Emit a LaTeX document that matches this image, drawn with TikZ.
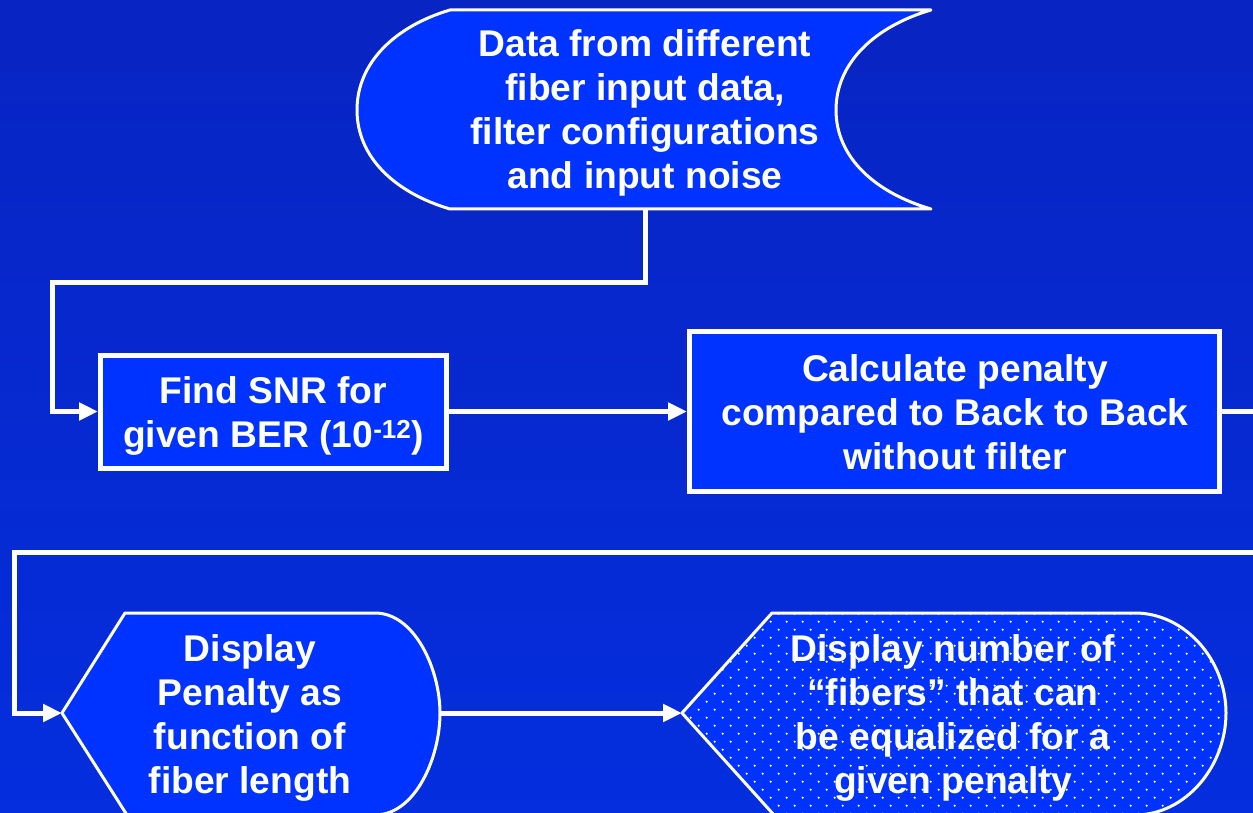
\documentclass[tikz,border=0pt]{standalone}
\usepackage{fontspec}
\setmainfont{Liberation Sans}
\usetikzlibrary{arrows.meta}
\definecolor{bgtop}{RGB}{8,36,194}
\definecolor{bgbot}{RGB}{4,46,222}
\definecolor{boxblue}{RGB}{0,51,255}
\begin{document}
\begin{tikzpicture}[x=1pt,y=-1pt,
  txt/.style={text=white, font=\fontsize{37.2}{44}\selectfont\bfseries, align=center, inner sep=0pt},
  rectbox/.style={draw=white, line width=5pt, fill=boxblue, inner sep=0pt},
  shapefill/.style={fill=boxblue},
  shapeline/.style={draw=white, line width=3pt, line join=round},
  conn/.style={draw=white, line width=5pt},
  arr/.style={conn, -{Triangle[length=19pt,width=17pt]}},
]
\useasboundingbox (0,0) rectangle (1253,813);
\clip (0,0) rectangle (1253,813);
\shade[top color=bgtop,bottom color=bgbot] (0,0) rectangle (1253,813);

% ---------- top data shape ----------
\path[shapefill,shapeline] (450,10) -- (931,10) .. controls (876,26) and (836,62) .. (836,110)
   .. controls (836,158) and (876,193) .. (931,209) -- (450,209)
   .. controls (396,193) and (357,158) .. (357,110) .. controls (357,62) and (396,26) .. (450,10) -- cycle;
\coordinate (data-s) at (645,209);
\node[txt] (data) at (645,112.8) {Data from different\\fiber input data,\\filter configurations\\and input noise};

% ---------- rectangles ----------
\node[rectbox, minimum width=346pt, minimum height=113pt] (snr) at (273.5,411.5) {};
\node[txt] (snr-t) at (273.5,415.8) {Find SNR for\\given BER (10\textsuperscript{-12})};

\node[rectbox, minimum width=530pt, minimum height=160pt] (calc) at (954.5,411.5) {};
\node[txt] (calc-t) at (955,412) {Calculate penalty\\compared to Back to Back\\without filter};

% ---------- display penalty ----------
\path[shapefill,shapeline] (62,713) -- (125,613) -- (375,613) .. controls (415,613) and (440,670) .. (440,713)
   .. controls (440,758) and (415,815) .. (375,815) -- (127,815) -- cycle;
\coordinate (dp-w) at (62,713);
\coordinate (dp-e) at (440,713);
\node[txt] (dp-t) at (250,717.8) {Display\\Penalty as\\function of\\fiber length};

% ---------- display number (dotted) ----------
\fill[boxblue] (682,713) -- (772,613) -- (1135,613) .. controls (1185,613) and (1226,660) .. (1226,713)
   .. controls (1226,767) and (1185,815) .. (1135,815) -- (774,815) -- cycle;
\begin{scope}
\clip (682,713) -- (772,613) -- (1135,613) .. controls (1185,613) and (1226,660) .. (1226,713)
   .. controls (1226,767) and (1185,815) .. (1135,815) -- (774,815) -- cycle;
\foreach \j in {0,...,27}{
  \pgfmathsetmacro{\off}{8*mod(\j,2)}
  \foreach \k in {0,...,36}{
    \fill[white] ({674.7+16*\k+\off},{605.7+8*\j}) circle (1.2pt);
  }
}
\end{scope}
\path[shapeline] (682,713) -- (772,613) -- (1135,613) .. controls (1185,613) and (1226,660) .. (1226,713)
   .. controls (1226,767) and (1185,815) .. (1135,815) -- (774,815) -- cycle;
\coordinate (dn-w) at (682,713);
\node[txt] (dn-t) at (953,717.7) {Display number of\\“fibers” that can\\be equalized for a\\given penalty};

% ---------- connectors ----------
\coordinate (c1) at (52,282);
\coordinate (r1) at (1262,411.5);
\coordinate (r2) at (1262,552);
\coordinate (l1) at (14,552);
\draw[arr] (data-s) |- (c1) |- (snr.west);
\draw[arr] (snr.east) -- (calc.west);
\draw[arr] (calc.east) -- (r1) -- (r2) -- (l1) |- (dp-w);
\draw[arr] (dp-e) -- (dn-w);
\end{tikzpicture}
\end{document}
